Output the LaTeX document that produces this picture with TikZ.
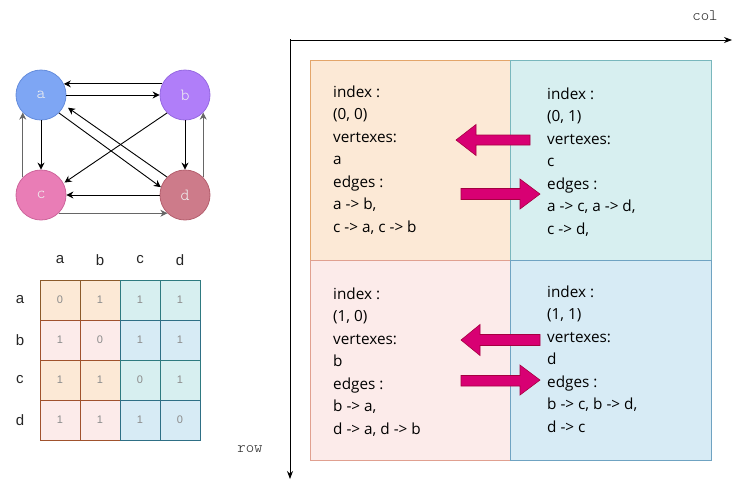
\documentclass[tikz,border=0pt]{standalone}
\usepackage{fontspec}
\setmainfont{Liberation Sans}
\setmonofont{Latin Modern Mono Light}
\newfontfamily\cellfont{Open Sans}
\usetikzlibrary{arrows.meta}
\definecolor{qOfill}{HTML}{FCE9D6}\definecolor{qOdraw}{HTML}{E3A56A}
\definecolor{qTfill}{HTML}{D7EFF0}\definecolor{qTdraw}{HTML}{79B7BD}
\definecolor{qPfill}{HTML}{FCEBEA}\definecolor{qPdraw}{HTML}{E0A090}
\definecolor{qBfill}{HTML}{D7EBF5}\definecolor{qBdraw}{HTML}{6FA3C2}
\definecolor{mOdraw}{HTML}{8B5A2B}\definecolor{mPdraw}{HTML}{A0522D}
\definecolor{mTdraw}{HTML}{2E7A80}\definecolor{mBdraw}{HTML}{2E6F85}
\definecolor{magfill}{HTML}{D80073}\definecolor{magdraw}{HTML}{A50040}
\definecolor{nAfill}{RGB}{126,166,244}\definecolor{nAdraw}{RGB}{100,140,220}
\definecolor{nBfill}{RGB}{176,126,249}\definecolor{nBdraw}{RGB}{150,105,225}
\definecolor{nCfill}{RGB}{233,125,182}\definecolor{nCdraw}{RGB}{205,100,155}
\definecolor{nDfill}{RGB}{205,123,138}\definecolor{nDdraw}{RGB}{180,95,110}
\begin{document}
\begin{tikzpicture}[x=1pt,y=-1pt,
  gnode/.style={circle,minimum size=50pt,inner sep=0pt,line width=0.8pt,text=white!94!black,font=\ttfamily\fontsize{17}{17}\selectfont},
  edge/.style={-{Stealth[length=7pt,width=7pt]},line width=0.9pt},
  gedge/.style={edge,draw=black!60},
  quad/.style={rectangle,minimum width=201pt,minimum height=200pt,inner sep=0pt,line width=0.7pt},
  qtext/.style={anchor=north west,align=left,inner sep=0pt,font=\cellfont\fontsize{15.3}{22.5}\selectfont,text=black},
  mcell/.style={rectangle,minimum size=40pt,inner sep=0pt,line width=0.8pt,text=black!45,font=\rmfamily\fontsize{11}{11}\selectfont},
  mlab/.style={font=\fontsize{15}{15}\selectfont,text=black!85},
  marrow/.style={fill=magfill,draw=magdraw,line width=0.6pt,line join=miter},
  axis/.style={-{Stealth[length=8pt,width=6pt]},line width=0.8pt},
  axlab/.style={font=\ttfamily\fontsize{16}{16}\selectfont,text=black!85}]
\useasboundingbox (0,0) rectangle (739,491);

% ---- graph ----
\node[gnode,fill=nAfill,draw=nAdraw] (a) at (41,95) {a};
\node[gnode,fill=nBfill,draw=nBdraw] (b) at (185,95) {b};
\node[gnode,fill=nCfill,draw=nCdraw] (c) at (41,195) {c};
\node[gnode,fill=nDfill,draw=nDdraw] (d) at (185,195) {d};

\draw[edge] (b.154) -- (a.26);
\draw[edge] (a.east) -- (b.west);
\draw[edge] (a.south) -- (c.north);
\draw[gedge] (c.136) -- (a.224);
\draw[edge] (b.south) -- (d.north);
\draw[gedge] (d.44) -- (b.316);
\draw[edge] (d.west) -- (c.east);
\draw[gedge] (c.314) -- (d.226);
\draw[edge] (a.315) -- (d.162);
\draw[edge] (d.135) -- ([shift={(4pt,-2pt)}]a.335);
\draw[edge] (b.225) -- ([shift={(2pt,-1pt)}]c.32);

% ---- matrix ----
\foreach \lab [count=\i from 0] in {a,b,c,d}{
  \node[mlab] (ch\i) at (60+40*\i,260) {\lab};
  \node[mlab] (rh\i) at (20,300+40*\i) {\lab};
}
\foreach \r/\c/\v/\f/\d in {
  0/0/0/qOfill/mOdraw,0/1/1/qOfill/mOdraw,0/2/1/qTfill/mTdraw,0/3/1/qTfill/mTdraw,
  1/0/1/qPfill/mPdraw,1/1/0/qPfill/mPdraw,1/2/1/qBfill/mBdraw,1/3/1/qBfill/mBdraw,
  2/0/1/qOfill/mPdraw,2/1/1/qOfill/mPdraw,2/2/0/qTfill/mTdraw,2/3/1/qTfill/mTdraw,
  3/0/1/qPfill/mPdraw,3/1/1/qPfill/mPdraw,3/2/1/qBfill/mBdraw,3/3/0/qBfill/mBdraw}{
  \node[mcell,fill=\f,draw=\d] (m\r\c) at (60+40*\c,300+40*\r) {\v};
}

% ---- axes ----
\coordinate (o) at (290,40);
\coordinate (colend) at (732,40);
\coordinate (rowend) at (290,479);
\draw[axis] (o) -- (colend);
\draw[axis] ([yshift=1pt]o) -- (rowend);
\node[axlab] (collab) at (705,16) {col};
\node[axlab] (rowlab) at (250,449) {row};

% ---- quadrants ----
\node[quad,fill=qOfill,draw=qOdraw] (q00) at (410.5,160) {};
\node[quad,fill=qTfill,draw=qTdraw] (q01) at (611,160) {};
\node[quad,fill=qPfill,draw=qPdraw] (q10) at (410.5,360) {};
\node[quad,fill=qBfill,draw=qBdraw] (q11) at (611,360) {};

\node[qtext] (t00) at (333,85.5) {index :\\(0, 0)\\vertexes:\\a\\edges :\\a -> b,\\c -> a, c -> b};
\node[qtext] (t01) at (547,87.5) {index :\\(0, 1)\\vertexes:\\c\\edges :\\a -> c, a -> d,\\c -> d,};
\node[qtext] (t10) at (333,287.5) {index :\\(1, 0)\\vertexes:\\b\\edges :\\b -> a,\\d -> a, d -> b};
\node[qtext] (t11) at (547,285.5) {index :\\(1, 1)\\vertexes:\\d\\edges :\\b -> c, b -> d,\\d -> c};

% ---- magenta arrows ----
\filldraw[marrow] (456,140) -- (476,124.5) -- (476,135) -- (530,135) -- (530,145) -- (476,145) -- (476,155.5) -- cycle;
\filldraw[marrow] (461,188.5) -- (520,188.5) -- (520,179) -- (540,194) -- (520,209) -- (520,199.5) -- (461,199.5) -- cycle;
\filldraw[marrow] (461,340) -- (480,324.5) -- (480,334.5) -- (540,334.5) -- (540,345.5) -- (480,345.5) -- (480,355.5) -- cycle;
\filldraw[marrow] (461,375.5) -- (520,375.5) -- (520,365) -- (540,380) -- (520,395) -- (520,386) -- (461,386) -- cycle;
\end{tikzpicture}
\end{document}
